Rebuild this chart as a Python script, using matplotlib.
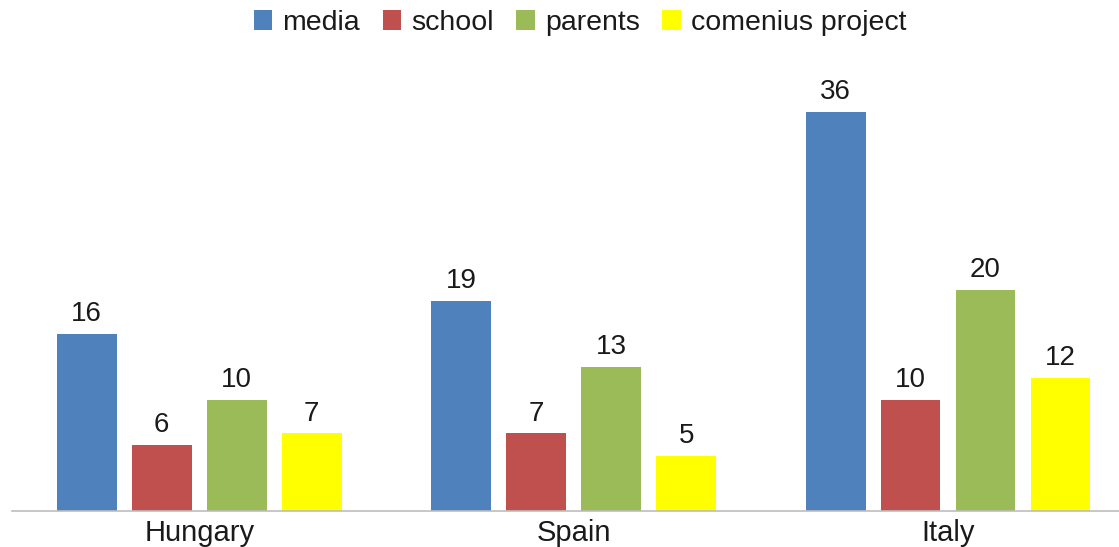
import matplotlib.pyplot as plt
import numpy as np

plt.rcParams['font.family'] = ['Liberation Sans', 'DejaVu Sans']

countries = ['Hungary', 'Spain', 'Italy']
series_names = ['media', 'school', 'parents', 'comenius project']
media = [16, 19, 36]
school = [6, 7, 10]
parents = [10, 13, 20]
comenius = [7, 5, 12]
colors = ['#4F81BD', '#C0504D', '#9BBB59', '#FFFF00']

fig = plt.figure(figsize=(11.19, 5.47), dpi=100)
ax = fig.add_axes([12 / 1119, 36 / 547, 1107 / 1119, 443 / 547])

x = np.arange(len(countries))
pitch = 0.2003
width = 0.160
for i, (name, vals, col) in enumerate(zip(series_names, [media, school, parents, comenius], colors)):
    bars = ax.bar(x + (i - 1.5) * pitch, vals, width, color=col, label=name, zorder=2)
    for b, v in zip(bars, vals):
        ax.annotate(str(v), (b.get_x() + b.get_width() / 2, v), xytext=(0, 5),
                    textcoords='offset points', ha='center', va='bottom',
                    fontsize=20, color='#1a1a1a')

ax.set_xlim(-0.5, 2.4566)
ax.set_ylim(0, 40)
ax.set_xticks(x)
ax.set_xticklabels(countries, fontsize=21, color='#1a1a1a')
ax.tick_params(axis='x', length=0, pad=6)
ax.set_yticks([])
for s in ['top', 'left', 'right']:
    ax.spines[s].set_visible(False)
ax.spines['bottom'].set_color('#BDBDBD')
ax.spines['bottom'].set_linewidth(1.2)

fig.legend(loc='center', bbox_to_anchor=(580 / 1119, 1 - 23 / 547), ncol=4, frameon=False,
           fontsize=20.5, handlelength=0.65, handleheight=0.65, handletextpad=0.35,
           columnspacing=0.8, labelcolor='#1a1a1a')

fig.savefig('out.png', dpi=100)
